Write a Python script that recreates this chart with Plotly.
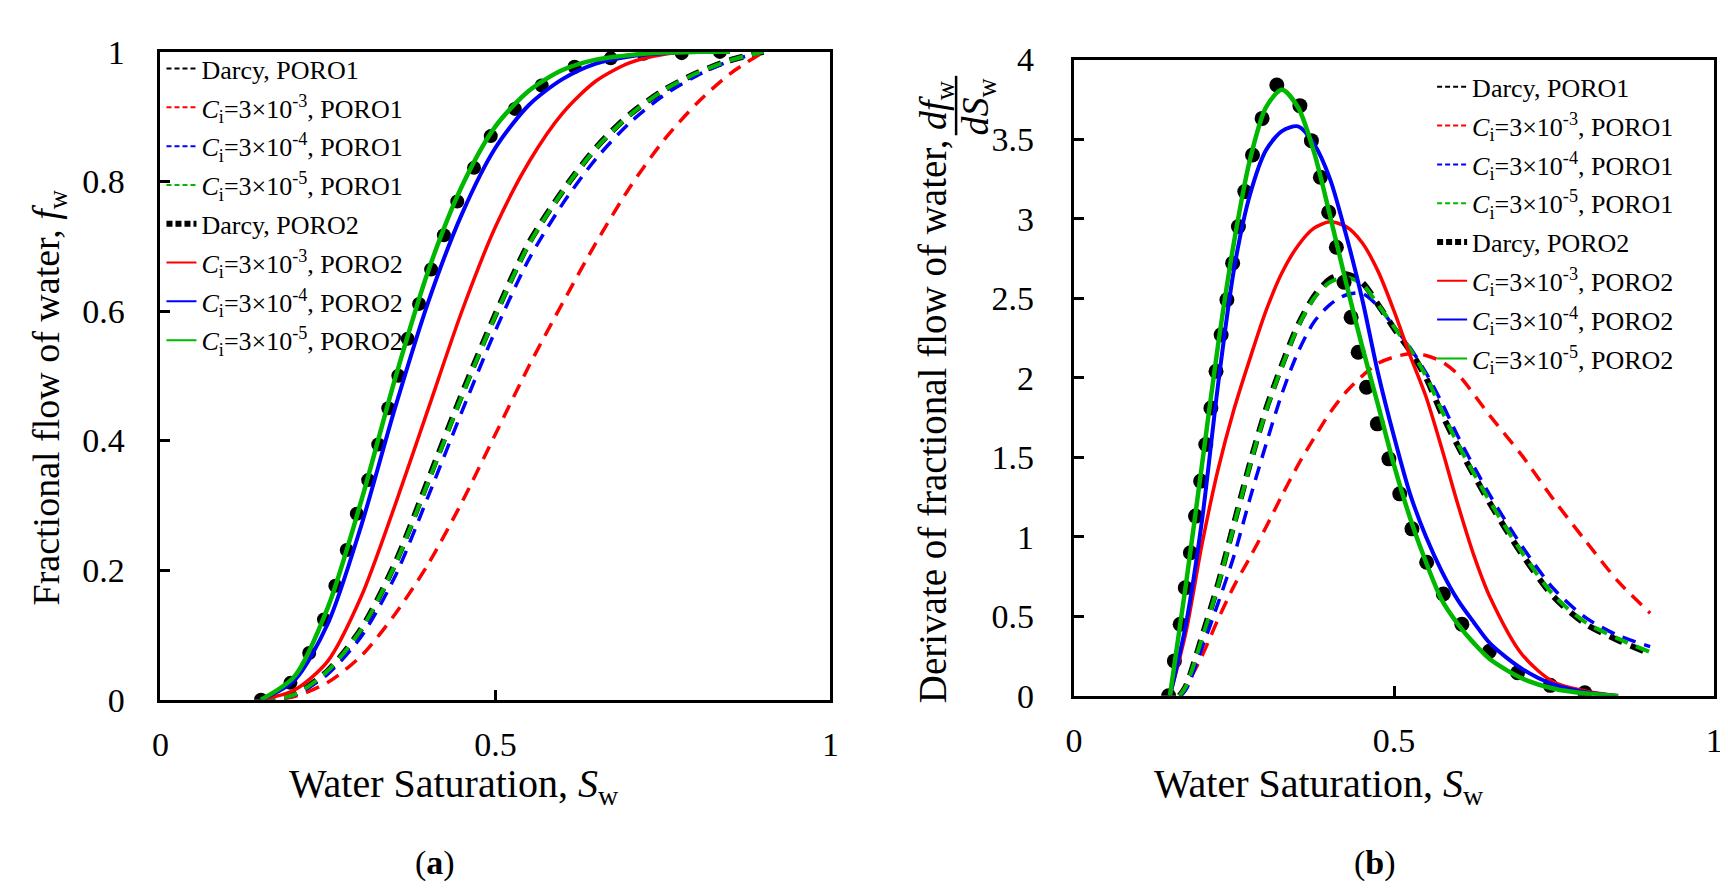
import plotly.graph_objects as go

W, H = 1728, 888

# ---- fractional flow, fw (panel a) ----
sw_p1 = [0.15, 0.2, 0.25, 0.3, 0.35, 0.4, 0.45, 0.5, 0.55, 0.6, 0.65, 0.7, 0.75, 0.8, 0.85, 0.9]
fw_darcy_p1 = [0, 0.008, 0.045, 0.11, 0.21, 0.34, 0.472, 0.595, 0.705, 0.785, 0.852, 0.903, 0.94, 0.967, 0.987, 1.0]
fw_c3_p1 = [0, 0.005, 0.027, 0.068, 0.132, 0.21, 0.305, 0.41, 0.515, 0.612, 0.705, 0.79, 0.862, 0.92, 0.966, 1.0]
fw_c4_p1 = [0, 0.007, 0.04, 0.098, 0.19, 0.315, 0.445, 0.57, 0.68, 0.765, 0.835, 0.89, 0.932, 0.963, 0.986, 1.0]
fw_c5_p1 = [0, 0.008, 0.045, 0.109, 0.208, 0.337, 0.469, 0.593, 0.703, 0.784, 0.851, 0.902, 0.94, 0.967, 0.987, 1.0]

sw_p2 = [0.15, 0.2, 0.25, 0.3, 0.35, 0.4, 0.45, 0.5, 0.55, 0.6, 0.65, 0.7, 0.75, 0.8, 0.85]
fw_c3_p2 = [0, 0.015, 0.06, 0.16, 0.3, 0.45, 0.6, 0.73, 0.83, 0.905, 0.955, 0.983, 0.996, 1.0, 1.0]
fw_c4_p2 = [0, 0.03, 0.118, 0.27, 0.45, 0.615, 0.75, 0.852, 0.918, 0.958, 0.982, 0.993, 0.998, 1.0, 1.0]
fw_c5_p2 = [0, 0.036, 0.143, 0.308, 0.495, 0.663, 0.793, 0.885, 0.94, 0.972, 0.988, 0.995, 0.999, 1.0, 1.0]

sw_dots_fw = [0.15, 0.194, 0.222, 0.244, 0.261, 0.278, 0.293, 0.31, 0.325, 0.34, 0.355, 0.369, 0.386,
              0.404, 0.423, 0.443, 0.468, 0.493, 0.529, 0.569, 0.618, 0.672, 0.721, 0.778, 0.835]
fw_darcy_p2 = [0, 0.026, 0.072, 0.124, 0.176, 0.231, 0.287, 0.339, 0.394, 0.45, 0.5, 0.557, 0.611,
               0.664, 0.717, 0.769, 0.821, 0.87, 0.912, 0.948, 0.977, 0.99, 0.997, 0.998, 1.0]

# ---- derivative dfw/dSw (panel b) ----
sw_d_p1 = [0.165, 0.175, 0.2, 0.225, 0.25, 0.275, 0.3, 0.325, 0.35, 0.375, 0.4, 0.425, 0.45,
           0.475, 0.5, 0.525, 0.55, 0.575, 0.6, 0.65, 0.7, 0.75, 0.8, 0.85, 0.9]
d_darcy_p1 = [0, 0.06, 0.37, 0.7, 1.08, 1.46, 1.8, 2.08, 2.33, 2.51, 2.62, 2.65, 2.6,
              2.46, 2.31, 2.17, 2.0, 1.77, 1.57, 1.21, 0.89, 0.62, 0.45, 0.35, 0.265]
d_c3_p1 = [0, 0.06, 0.25, 0.48, 0.69, 0.87, 1.06, 1.26, 1.45, 1.62, 1.78, 1.91, 2.01,
           2.09, 2.13, 2.15, 2.14, 2.1, 2.02, 1.76, 1.51, 1.23, 0.97, 0.72, 0.52]
d_c4_p1 = [0, 0.04, 0.3, 0.58, 0.88, 1.24, 1.58, 1.9, 2.16, 2.35, 2.46, 2.52, 2.53,
           2.45, 2.32, 2.19, 2.03, 1.84, 1.63, 1.26, 0.94, 0.67, 0.49, 0.38, 0.31]
d_c5_p1 = [0, 0.06, 0.36, 0.69, 1.07, 1.45, 1.79, 2.07, 2.32, 2.5, 2.6, 2.63, 2.59,
           2.46, 2.32, 2.18, 2.01, 1.79, 1.58, 1.22, 0.9, 0.63, 0.46, 0.36, 0.275]

sw_d_p2 = [0.15, 0.175, 0.2, 0.225, 0.25, 0.275, 0.3, 0.325, 0.35, 0.375, 0.4, 0.425, 0.45,
           0.475, 0.5, 0.525, 0.55, 0.575, 0.6, 0.625, 0.65, 0.7, 0.75, 0.8, 0.85]
d_c3_p2 = [0, 0.4, 0.95, 1.42, 1.8, 2.12, 2.42, 2.66, 2.83, 2.94, 2.98, 2.95, 2.85,
           2.67, 2.42, 2.14, 1.88, 1.55, 1.2, 0.88, 0.62, 0.26, 0.085, 0.03, 0]
d_c4_p2 = [0, 0.45, 1.1, 1.95, 2.68, 3.15, 3.43, 3.55, 3.58, 3.47, 3.25, 2.9, 2.5,
           2.03, 1.63, 1.27, 1.0, 0.78, 0.6, 0.46, 0.33, 0.17, 0.07, 0.022, 0]
d_c5_p2 = [0, 0.7, 1.45, 2.2, 2.85, 3.37, 3.7, 3.81, 3.7, 3.42, 3.02, 2.6, 2.2,
           1.83, 1.45, 1.12, 0.84, 0.6, 0.45, 0.33, 0.23, 0.11, 0.045, 0.015, 0]

sw_dots_d = [0.148, 0.157, 0.166, 0.174, 0.182, 0.19, 0.198, 0.206, 0.214, 0.222, 0.23, 0.239,
             0.248, 0.257, 0.267, 0.279, 0.294, 0.317, 0.353, 0.371, 0.385, 0.398, 0.41, 0.422,
             0.433, 0.444, 0.457, 0.474, 0.492, 0.509, 0.528, 0.551, 0.577, 0.606, 0.649, 0.693,
             0.744, 0.798]
d_darcy_p2 = [0, 0.22, 0.45, 0.68, 0.9, 1.13, 1.35, 1.58, 1.81, 2.04, 2.27, 2.49,
              2.72, 2.95, 3.17, 3.4, 3.63, 3.84, 3.71, 3.49, 3.26, 3.04, 2.82, 2.6,
              2.38, 2.16, 1.94, 1.71, 1.49, 1.27, 1.05, 0.84, 0.64, 0.45, 0.28, 0.145,
              0.066, 0.02]

def ci(exp, poro):
    return f"<i>C</i><sub>i</sub>=3×10<sup>-{exp}</sup>, {poro}"

DASH = "14px,9px"
RED, BLUE, GREEN = "#ff0000", "#0000ff", "#00b800"
FONT = "Liberation Serif"

fig = go.Figure()

panels = [
    ("x", "y", "legend", sw_p1, [fw_darcy_p1, fw_c3_p1, fw_c4_p1, fw_c5_p1],
     sw_dots_fw, fw_darcy_p2, sw_p2, [fw_c3_p2, fw_c4_p2, fw_c5_p2], 14),
    ("x2", "y2", "legend2", sw_d_p1, [d_darcy_p1, d_c3_p1, d_c4_p1, d_c5_p1],
     sw_dots_d, d_darcy_p2, sw_d_p2, [d_c3_p2, d_c4_p2, d_c5_p2], 15),
]

names1 = ["Darcy, PORO1", ci(3, "PORO1"), ci(4, "PORO1"), ci(5, "PORO1")]
cols1 = ["black", RED, BLUE, GREEN]
widths1 = [6, 3.5, 3.5, 4]
names2 = [ci(3, "PORO2"), ci(4, "PORO2"), ci(5, "PORO2")]
cols2 = [RED, BLUE, GREEN]
widths2 = [3.5, 4, 4.5]

for xa, ya, leg, sw1, p1, swd, dots, sw2, p2, msize in panels:
    for i in range(4):
        fig.add_trace(go.Scatter(
            x=sw1, y=p1[i], mode="lines", showlegend=False,
            line=dict(color=cols1[i], width=widths1[i], dash=DASH, shape="spline", smoothing=0.8),
            xaxis=xa, yaxis=ya,
        ))
    fig.add_trace(go.Scatter(
        x=swd, y=dots, mode="markers", showlegend=False,
        marker=dict(color="black", size=msize),
        xaxis=xa, yaxis=ya,
    ))
    for i in range(3):
        fig.add_trace(go.Scatter(
            x=sw2, y=p2[i], mode="lines", showlegend=False,
            line=dict(color=cols2[i], width=widths2[i], shape="spline", smoothing=0.8),
            xaxis=xa, yaxis=ya,
        ))

    # legend entries drawn thin, like the short keys of the original figure
    for i in range(4):
        fig.add_trace(go.Scatter(
            x=[None], y=[None], mode="lines", name=names1[i],
            line=dict(color=cols1[i], width=2, dash="5px,3px"),
            xaxis=xa, yaxis=ya, legend=leg, legendgroup=f"{leg}{i}",
        ))
    fig.add_trace(go.Scatter(
        x=[None], y=[None], mode="lines", name="Darcy, PORO2",
        line=dict(color="black", width=6, dash="6px,3px"),
        xaxis=xa, yaxis=ya, legend=leg, legendgroup=f"{leg}4",
    ))
    for i in range(3):
        fig.add_trace(go.Scatter(
            x=[None], y=[None], mode="lines", name=names2[i],
            line=dict(color=cols2[i], width=2),
            xaxis=xa, yaxis=ya, legend=leg, legendgroup=f"{leg}{5 + i}",
        ))

axis_common = dict(
    showline=True, linecolor="black", linewidth=3, mirror=True,
    ticks="inside", ticklen=10, tickwidth=3, tickcolor="black",
    showgrid=False, zeroline=False,
    tickfont=dict(family=FONT, size=34, color="black"),
)

def px_x(p):
    return p / W

def px_y(p):
    return 1 - p / H

legend_font = dict(family=FONT, size=26, color="black")

fig.update_layout(
    width=W, height=H,
    margin=dict(l=0, r=0, t=0, b=0),
    paper_bgcolor="white", plot_bgcolor="white",
    font=dict(family=FONT, color="black"),
    xaxis=dict(axis_common, domain=[px_x(145), px_x(822)], range=[0, 1], ticklabelstandoff=12,
               tickvals=[0, 0.5, 1], ticktext=["0", "0.5", "1"], anchor="y"),
    yaxis=dict(axis_common, domain=[px_y(703), px_y(27)], range=[0, 1], ticklabelstandoff=26,
               tickvals=[0, 0.2, 0.4, 0.6, 0.8, 1],
               ticktext=["0", "0.2", "0.4", "0.6", "0.8", "1"], anchor="x"),
    xaxis2=dict(axis_common, domain=[px_x(1068), px_x(1715)], range=[0, 1], ticklabelstandoff=12,
                tickvals=[0, 0.5, 1], ticktext=["0", "0.5", "1"], anchor="y2"),
    yaxis2=dict(axis_common, domain=[px_y(699), px_y(35)], range=[0, 4], ticklabelstandoff=30,
                tickvals=[0, 0.5, 1, 1.5, 2, 2.5, 3, 3.5, 4],
                ticktext=["0", "0.5", "1", "1.5", "2", "2.5", "3", "3.5", "4"], anchor="x2"),
    legend=dict(x=px_x(146), y=px_y(20), xanchor="left", yanchor="top",
                bgcolor="rgba(0,0,0,0)", font=legend_font,
                tracegroupgap=2, itemwidth=30, traceorder="grouped"),
    legend2=dict(x=px_x(1430), y=px_y(39), xanchor="left", yanchor="top",
                 bgcolor="rgba(0,0,0,0)", font=legend_font,
                 tracegroupgap=2, itemwidth=30, traceorder="grouped"),
    showlegend=True,
)

title_font = dict(family=FONT, size=40, color="black")
annos = [
    dict(x=px_x(442), y=px_y(793), text="Water Saturation, <i>S</i><sub>w</sub>", font=title_font),
    dict(x=px_x(1316), y=px_y(793), text="Water Saturation, <i>S</i><sub>w</sub>", font=title_font),
    dict(x=px_x(32), y=px_y(388), text="Fractional flow of water, <i>f</i><sub>w</sub>",
         font=dict(title_font, size=38), textangle=-90),
    dict(x=px_x(925), y=px_y(412), text="Derivate of fractional flow of water,",
         font=dict(title_font, size=39), textangle=-90),
    dict(x=px_x(928), y=px_y(82), text="<i>df</i><sub>w</sub>",
         font=dict(family=FONT, size=38, color="black"), textangle=-90),
    dict(x=px_x(971), y=px_y(84), text="<i>dS</i><sub>w</sub>",
         font=dict(family=FONT, size=38, color="black"), textangle=-90),
    dict(x=px_x(422), y=px_y(873), text="(<b>a</b>)", font=dict(family=FONT, size=34, color="black")),
    dict(x=px_x(1372), y=px_y(873), text="(<b>b</b>)", font=dict(family=FONT, size=34, color="black")),
]
for a in annos:
    fig.add_annotation(xref="paper", yref="paper", showarrow=False,
                       xanchor="center", yanchor="middle", **a)

fig.add_shape(type="line", xref="paper", yref="paper",
              x0=px_x(949), x1=px_x(949), y0=px_y(52), y1=px_y(114),
              line=dict(color="black", width=2.5))

fig.write_html("out.html")
